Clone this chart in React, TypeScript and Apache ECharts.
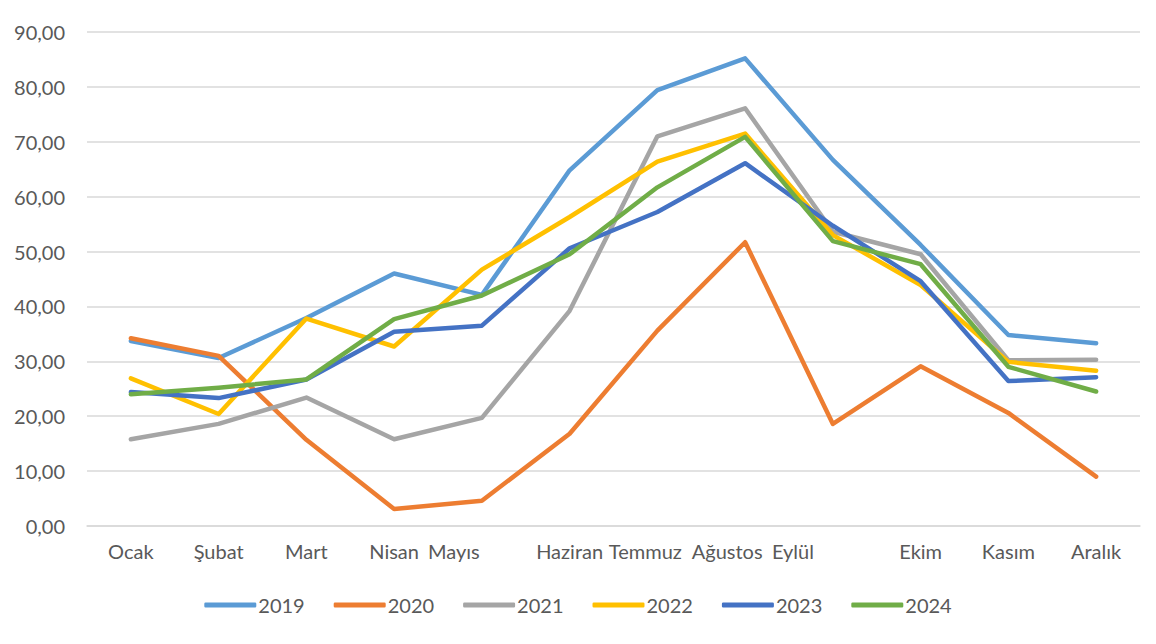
import React, { useEffect, useRef } from "react";
import * as echarts from "echarts";

const months = ["Ocak", "Şubat", "Mart", "Nisan", "Mayıs", "Haziran", "Temmuz", "Ağustos", "Eylül", "Ekim", "Kasım", "Aralık"];
const years = ["2019", "2020", "2021", "2022", "2023", "2024"];
const s2019 = [33.7, 30.6, 37.9, 46.0, 42.1, 64.8, 79.4, 85.2, 66.7, 51.2, 34.8, 33.3];
const s2020 = [34.2, 31.0, 15.7, 3.1, 4.6, 16.8, 35.6, 51.7, 18.6, 29.1, 20.6, 9.0];
const s2021 = [15.8, 18.6, 23.4, 15.8, 19.7, 39.2, 71.0, 76.1, 53.6, 49.5, 30.2, 30.3];
const s2022 = [26.9, 20.4, 37.8, 32.7, 46.7, 56.3, 66.4, 71.5, 53.0, 43.9, 29.9, 28.3];
const s2023 = [24.4, 23.3, 26.7, 35.4, 36.5, 50.6, 57.2, 66.1, 54.7, 44.6, 26.4, 27.1];
const s2024 = [24.0, 25.2, 26.7, 37.7, 42.0, 49.5, 61.7, 70.9, 51.9, 47.7, 29.0, 24.5];
const allSeries = [s2019, s2020, s2021, s2022, s2023, s2024];
const colors = ["#5B9BD5", "#ED7D31", "#A5A5A5", "#FFC000", "#4472C4", "#70AD47"];
const yTicks = { min: 0, max: 90, interval: 10 };

// horizontal shift (px) of some category labels, as in the reference
const labelShift: Record<number, number> = { 4: -28, 5: 0, 6: -12, 7: -18, 8: -40 };
const FONT = "Lato";

export default function App() {
  const ref = useRef<HTMLDivElement>(null);
  useEffect(() => {
    if (!ref.current) return;
    const chart = echarts.init(ref.current, undefined, { renderer: "svg" });
    const rich: Record<string, any> = {};
    Object.keys(labelShift).forEach((k) => {
      const s = labelShift[+k];
      rich["s" + k] = {
        fontFamily: FONT,
        fontSize: 20,
        color: "#595959",
        padding: s < 0 ? [0, -2 * s, 0, 0] : [0, 0, 0, 2 * s],
      };
    });
    chart.setOption({
      animation: false,
      backgroundColor: "#ffffff",
      grid: { left: 87, right: 16, top: 32, bottom: 118, containLabel: false },
      legend: {
        bottom: 24,
        left: "center",
        itemWidth: 52,
        itemHeight: 5,
        itemGap: 29,
        icon: "roundRect",
        textStyle: { fontFamily: FONT, fontSize: 20, color: "#595959", padding: [0, 0, 0, -3] },
        data: years,
      },
      xAxis: {
        type: "category",
        data: months,
        boundaryGap: true,
        axisLine: { show: true, lineStyle: { color: "#D9D9D9", width: 1.5 } },
        axisTick: { show: false },
        axisLabel: {
          interval: 0,
          margin: 15,
          fontFamily: FONT,
          fontSize: 20,
          color: "#595959",
          formatter: (v: string, i: number) => (labelShift[i] !== undefined ? `{s${i}|${v}}` : v),
          rich,
        },
      },
      yAxis: {
        type: "value",
        min: yTicks.min,
        max: yTicks.max,
        interval: yTicks.interval,
        axisLine: { show: false },
        axisTick: { show: false },
        splitLine: { lineStyle: { color: "#D9D9D9", width: 1.5 } },
        axisLabel: {
          margin: 22,
          fontFamily: FONT,
          fontSize: 20,
          color: "#595959",
          formatter: (v: number) => v.toFixed(2).replace(".", ","),
        },
      },
      series: years.map((y, i) => ({
        name: y,
        type: "line",
        data: allSeries[i],
        showSymbol: false,
        symbol: "none",
        color: colors[i],
        lineStyle: { width: 4.5, color: colors[i], cap: "round", join: "round" },
      })),
    });
    return () => chart.dispose();
  }, []);
  return <div ref={ref} style={{ position: "fixed", left: 0, top: 0, width: 1156, height: 644 }} />;
}
